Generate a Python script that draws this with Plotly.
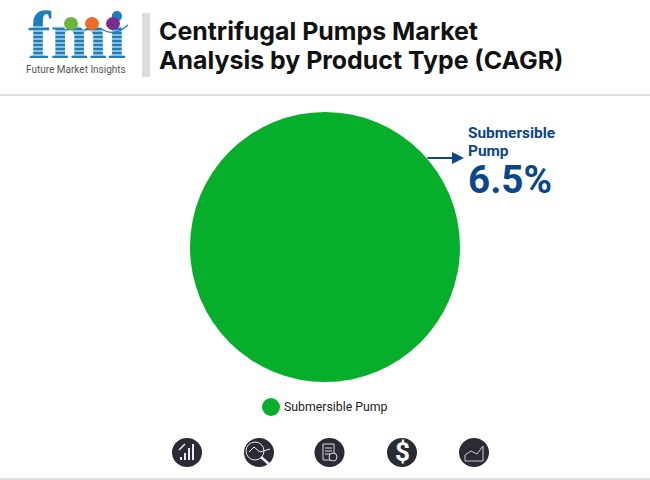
import plotly.graph_objects as go

W = 650
H = 480

categories = ["Submersible Pump"]
cagr_values = [6.5]
title_lines = ["Centrifugal Pumps Market", "Analysis by Product Type (CAGR)"]
logo_text = "fmi"
logo_caption = "Future Market Insights"

GREEN = "#07AE2B"
NAVY = "#0A4689"
DARK = "#2B2B36"
GREY = "#DDDDDD"


def px(x):
    return x / W


def py(y):
    return 1 - y / H


def box(x0, y0, x1, y1, color, kind="rect", line=None):
    return dict(type=kind, xref="paper", yref="paper",
                x0=px(x0), x1=px(x1), y0=py(y0), y1=py(y1),
                fillcolor=color, line=dict(color=line or color, width=0 if line is None else 1))


def seg(x0, y0, x1, y1, color="white", width=1.5):
    return dict(type="line", xref="paper", yref="paper",
                x0=px(x0), x1=px(x1), y0=py(y0), y1=py(y1),
                line=dict(color=color, width=width))


def label(x, y, text, size, color, family="Roboto", anchor="left"):
    return dict(x=px(x), y=py(y), xref="paper", yref="paper", text=text, showarrow=False,
                xanchor=anchor, yanchor="middle", align="left",
                font=dict(size=size, color=color, family=family))


fig = go.Figure(go.Pie(
    labels=categories,
    values=cagr_values,
    domain=dict(x=[px(190), px(460)], y=[py(382), py(112)]),
    marker=dict(colors=[GREEN]),
    textinfo="none",
    hoverinfo="label+value",
    sort=False,
    showlegend=False,
))

# logo lettering is a trace so the white stripes can sit on top of it
fig.add_trace(go.Scatter(
    x=[77], y=[41], mode="text", text=["<b>%s</b>" % logo_text],
    textposition="middle center",
    textfont=dict(size=68, color="#1C7DB8", family="Liberation Serif"),
    hoverinfo="skip", showlegend=False, cliponaxis=False,
))

shapes = [
    box(142, 13, 150, 77, GREY),      # bar next to the title
    box(0, 94, W, 96, GREY),          # header rule
    box(0, 478, W, 480, GREY),        # footer rule
    box(262, 398, 280, 416, GREEN, "circle"),  # legend dot
]

# stripes across the logo lettering
shapes += [seg(26, y, 128, y, "white", 1) for y in range(27, 64, 4)]

# logo balls and the arc under them
shapes += [
    box(64, 17, 78, 30, "#6DB33F", "circle"),
    box(85, 17, 99, 30, "#EE6C2B", "circle"),
    box(106, 17, 120, 30, "#7B2D8E", "circle"),
    dict(type="path", xref="paper", yref="paper",
         path="M %f %f Q %f %f %f %f" % (px(100), py(28), px(114), py(38), px(128), py(25)),
         line=dict(color="#1C7DB8", width=1.2)),
]

# icon row
icon_x = [187, 259, 329.5, 402, 474]
for cx in icon_x:
    shapes.append(box(cx - 15, 438, cx + 15, 467, DARK, "circle"))

# bars icon
for i, top in enumerate([457, 453, 448, 444]):
    shapes.append(seg(181 + i * 4, 460, 181 + i * 4, top, "#EEEEEE", 2))
shapes.append(seg(179, 450, 185, 444, "#EEEEEE", 1.5))
# magnifier icon
shapes.append(box(246, 442, 264, 460, "rgba(0,0,0,0)", "circle", "#EEEEEE"))
shapes.append(seg(261, 457, 270, 465, "#EEEEEE", 2.5))
shapes.append(seg(249, 452, 254, 447, "#EEEEEE", 1))
shapes.append(seg(254, 447, 260, 452, "#EEEEEE", 1))
shapes.append(seg(260, 452, 270, 449, "#EEEEEE", 1))
# report icon
shapes.append(box(323, 444, 334, 460, "rgba(0,0,0,0)", "rect", "#DDDDDD"))
for y in (448, 451, 454):
    shapes.append(seg(325, y, 332, y, "#DDDDDD", 1))
shapes.append(box(329, 453, 337, 461, DARK, "circle", "#DDDDDD"))
# chart icon
shapes.append(seg(465, 461, 483, 461, "#CCCCCC", 1))
shapes.append(seg(465, 455, 471, 451, "#CCCCCC", 1))
shapes.append(seg(471, 451, 477, 454, "#CCCCCC", 1))
shapes.append(seg(477, 454, 483, 446, "#CCCCCC", 1))
shapes.append(seg(465, 455, 465, 461, "#CCCCCC", 1))
shapes.append(seg(483, 446, 483, 461, "#CCCCCC", 1))

annotations = [
    label(157, 31, "<b>%s</b>" % title_lines[0], 24.9, "#111111", "Inter"),
    label(157, 60, "<b>%s</b>" % title_lines[1], 24.9, "#111111", "Inter"),
    label(466, 133, "<b>Submersible</b>", 15.4, NAVY),
    label(466, 151, "<b>Pump</b>", 15.4, NAVY),
    label(466, 179, "<b>%.1f%%</b>" % cagr_values[0], 38.6, NAVY),
    label(282, 407, categories[0], 12.3, "#222222"),
    label(76, 69, logo_caption, 10, "#555555", "Roboto", "center"),
    label(402, 452, "<b>$</b>", 26, "white", "Roboto", "center"),
    dict(x=px(464), y=py(158), ax=-38, ay=0, xref="paper", yref="paper",
         axref="pixel", ayref="pixel", text="", showarrow=True,
         arrowhead=2, arrowsize=1.2, arrowwidth=2, arrowcolor=NAVY),
]

fig.update_layout(
    width=W,
    height=H,
    margin=dict(l=0, r=0, t=0, b=0),
    paper_bgcolor="white",
    plot_bgcolor="rgba(0,0,0,0)",
    xaxis=dict(visible=False, range=[0, W], domain=[0, 1]),
    yaxis=dict(visible=False, range=[H, 0], domain=[0, 1]),
    shapes=shapes,
    annotations=annotations,
)

# drop the browser's default page margin so pixels line up with the reference
fig.write_html("out.html", config=dict(displayModeBar=False),
               post_script="document.body.style.margin='0';")
